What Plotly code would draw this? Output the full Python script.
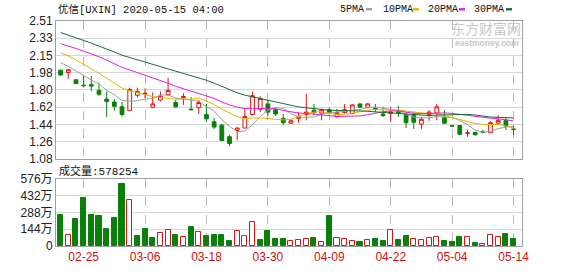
import plotly.graph_objects as go
import pandas as pd

# ---------------- data ----------------
dates = ["02-20", "02-21", "02-24", "02-25", "02-26", "02-27", "02-28", "03-02", "03-03", "03-04", "03-05", "03-06",
         "03-09", "03-10", "03-11", "03-12", "03-13", "03-16", "03-17", "03-18", "03-19", "03-20", "03-23", "03-24",
         "03-25", "03-26", "03-27", "03-30", "03-31", "04-01", "04-02", "04-03", "04-06", "04-07", "04-08", "04-09",
         "04-13", "04-14", "04-15", "04-16", "04-17", "04-20", "04-21", "04-22", "04-23", "04-24", "04-27", "04-28",
         "04-29", "04-30", "05-01", "05-04", "05-05", "05-06", "05-07", "05-08", "05-11", "05-12", "05-13", "05-14"]

open_ = [2.00, 1.975, 1.90, 1.845, 1.85, 1.79, 1.70, 1.67, 1.62, 1.58, 1.74, 1.75,
         1.615, 1.69, 1.745, 1.665, 1.715, 1.595, 1.61, 1.54, 1.465, 1.43, 1.31, 1.375,
         1.40, 1.54, 1.595, 1.65, 1.59, 1.50, 1.45, 1.50, 1.54, 1.585, 1.555, 1.59,
         1.515, 1.56, 1.55, 1.65, 1.615, 1.605, 1.545, 1.55, 1.57, 1.54, 1.53, 1.44,
         1.54, 1.555, 1.51, 1.425, 1.425, 1.345, 1.355, 1.36, 1.35, 1.45, 1.48, 1.39]
high = [2.005, 2.01, 1.91, 1.94, 1.94, 1.87, 1.78, 1.70, 1.67, 1.82, 1.82, 1.81,
        1.77, 1.78, 1.92, 1.69, 1.76, 1.72, 1.69, 1.65, 1.505, 1.445, 1.33, 1.405,
        1.60, 1.775, 1.73, 1.69, 1.605, 1.545, 1.49, 1.565, 1.755, 1.65, 1.60, 1.61,
        1.60, 1.65, 1.645, 1.655, 1.655, 1.65, 1.62, 1.62, 1.63, 1.565, 1.565, 1.515,
        1.585, 1.65, 1.585, 1.43, 1.43, 1.385, 1.36, 1.385, 1.47, 1.53, 1.515, 1.43]
low = [1.945, 1.91, 1.86, 1.82, 1.78, 1.73, 1.515, 1.58, 1.52, 1.58, 1.72, 1.71,
       1.61, 1.675, 1.73, 1.61, 1.64, 1.585, 1.545, 1.465, 1.39, 1.265, 1.21, 1.275,
       1.40, 1.53, 1.565, 1.53, 1.525, 1.43, 1.445, 1.455, 1.48, 1.535, 1.48, 1.545,
       1.51, 1.55, 1.545, 1.61, 1.61, 1.565, 1.515, 1.465, 1.515, 1.40, 1.39, 1.39,
       1.475, 1.48, 1.445, 1.415, 1.33, 1.31, 1.32, 1.345, 1.35, 1.44, 1.38, 1.325]
close = [1.95, 2.005, 1.86, 1.84, 1.835, 1.75, 1.675, 1.625, 1.54, 1.80, 1.78, 1.76,
         1.65, 1.73, 1.79, 1.62, 1.725, 1.59, 1.665, 1.495, 1.41, 1.27, 1.24, 1.40,
         1.52, 1.735, 1.705, 1.565, 1.545, 1.455, 1.475, 1.52, 1.565, 1.56, 1.59, 1.555,
         1.56, 1.59, 1.64, 1.615, 1.65, 1.595, 1.53, 1.565, 1.56, 1.455, 1.46, 1.49,
         1.565, 1.62, 1.45, 1.42, 1.335, 1.35, 1.33, 1.355, 1.455, 1.48, 1.42, 1.385]

# closes of the 29 sessions before the window (estimated so the averages start where the chart shows them)
prior_closes = [2.75, 2.72, 2.70, 2.66, 2.63, 2.60, 2.58, 2.55, 2.52, 2.49,
                2.45, 2.42, 2.40, 2.38, 2.36, 2.37, 2.35, 2.33, 2.32, 2.32,
                2.31, 2.29, 2.28, 2.27, 2.26, 2.20, 2.10, 2.08, 2.06]

# volume, in 万 shares
volume = [269, 95, 236, 410, 269, 261, 148, 245, 535, 394, 87, 145,
          70, 109, 134, 95, 79, 162, 118, 87, 95, 95, 46, 128,
          87, 203, 54, 128, 62, 62, 43, 51, 60, 68, 35, 261,
          68, 62, 43, 37, 54, 62, 46, 137, 54, 87, 60, 54,
          73, 79, 40, 37, 79, 79, 29, 21, 95, 79, 104, 57.8254]

x_tick_dates = ["02-25", "03-06", "03-18", "03-30", "04-09", "04-22", "05-04", "05-14"]
price_tick_vals = [2.51, 2.33125, 2.1525, 1.97375, 1.795, 1.61625, 1.4375, 1.25875, 1.08]
price_tick_text = ["2.51", "2.33", "2.15", "1.98", "1.80", "1.62", "1.44", "1.26", "1.08"]
vol_tick_vals = [0, 144, 288, 432, 576]
vol_tick_text = ["0", "144万", "288万", "432万", "576万"]

ma_periods = [5, 10, 20, 30]
ma_names = ["5PMA", "10PMA", "20PMA", "30PMA"]
ma_colors = ["#a0a0a0", "#f0b000", "#e020e0", "#1a6b3a"]

title_text = "优信[UXIN] 2020-05-15 04:00"
volume_label = "成交量:578254"

# ---------------- derived ----------------
RED = "#e01010"
GREEN = "#0a800a"
all_close = pd.Series(prior_closes + close)
n_prior = len(prior_closes)

vol_fill, vol_line = [], []
for i, c in enumerate(close):
    prev = close[i - 1] if i > 0 else open_[0]
    up = c >= prev
    vol_fill.append("white" if up else GREEN)
    vol_line.append(RED if up else GREEN)

fig = go.Figure()

fig.add_trace(go.Candlestick(
    x=dates, open=open_, high=high, low=low, close=close,
    increasing=dict(line=dict(color=RED, width=1), fillcolor="white"),
    decreasing=dict(line=dict(color=GREEN, width=1), fillcolor=GREEN),
    whiskerwidth=0, showlegend=False, xaxis="x", yaxis="y"))

for p, name, col in zip(ma_periods, ma_names, ma_colors):
    ma = all_close.rolling(p).mean().iloc[n_prior:].tolist()
    fig.add_trace(go.Scatter(x=dates, y=ma, mode="lines", name=name,
                             line=dict(color=col, width=1), showlegend=False,
                             xaxis="x", yaxis="y"))

fig.add_trace(go.Bar(x=dates, y=volume, width=0.66,
                     marker=dict(color=vol_fill, line=dict(color=vol_line, width=1)),
                     showlegend=False, xaxis="x2", yaxis="y2"))

# ---------------- layout ----------------
W, H = 578, 276
L, R, T, B = 56, 56, 21, 20
pw, ph = W - L - R, H - T - B


def px_x(px):
    return (px - L) / pw


def px_y(py):
    return (H - B - py) / ph


axis_font = dict(family="Liberation Sans, Arial, sans-serif", size=12, color="#222")
common_x = dict(type="category", range=[-0.6, 60.1], tickvals=x_tick_dates,
                showgrid=True, gridcolor="#b8b8b8", griddash="dash", gridwidth=1,
                showline=True, mirror=True, linecolor="#a0a0a0", ticks="",
                zeroline=False, fixedrange=True)

fig.update_layout(
    width=W, height=H, margin=dict(l=L, r=R, t=T, b=B, pad=0),
    paper_bgcolor="white", plot_bgcolor="white",
    font=axis_font, bargap=0, boxgap=0.3,
    xaxis=dict(**common_x, anchor="y", showticklabels=False,
               rangeslider=dict(visible=False)),
    xaxis2=dict(**common_x, anchor="y2", matches="x", showticklabels=True,
                tickfont=dict(family="Liberation Sans, Arial, sans-serif", size=12, color="#d01010")),
    yaxis=dict(domain=[px_y(165), 1], range=[1.08, 2.51], tickvals=price_tick_vals,
               ticktext=price_tick_text, showgrid=True, gridcolor="#d8d8d8",
               showline=True, mirror=True, linecolor="#a0a0a0", zeroline=False, ticks=""),
    yaxis2=dict(domain=[0, px_y(186)], range=[0, 576], tickvals=vol_tick_vals,
                ticktext=vol_tick_text, showgrid=True, gridcolor="#d8d8d8",
                showline=True, mirror=True, linecolor="#a0a0a0", zeroline=False, ticks="",
                tickfont=dict(family="Liberation Sans, Noto Sans CJK SC, sans-serif", size=12, color="#222")),
)

mono = "Liberation Mono, Noto Sans CJK SC, monospace"
ann = [
    dict(text=title_text, x=0, y=px_y(8.5), xanchor="left", yanchor="middle",
         font=dict(family=mono, size=10.5, color="#111")),
    dict(text=volume_label, x=px_x(57), y=px_y(178), xanchor="left", yanchor="middle",
         font=dict(family=mono, size=11, color="#111")),
    dict(text="东方财富网", x=px_x(486), y=px_y(28.5), xanchor="center", yanchor="middle",
         font=dict(family="Noto Sans CJK SC", size=14, color="#c8c8c8")),
    dict(text="<b>eastmoney.com</b>", x=px_x(487), y=px_y(44), xanchor="center", yanchor="middle",
         font=dict(family="Liberation Sans, Arial", size=8.5, color="#c8c8c8")),
]
legend_left = [338, 381, 426, 472]
dash_left = [366, 413, 459, 506]
shapes = []
for name, col, lx, dx in zip(ma_names, ma_colors, legend_left, dash_left):
    ann.append(dict(text=name, x=px_x(lx), y=px_y(9.5), xanchor="left", yanchor="middle",
                    font=dict(family=mono, size=10, color="#111")))
    shapes.append(dict(type="rect", xref="paper", yref="paper",
                       x0=px_x(dx), x1=px_x(dx + 6), y0=px_y(10), y1=px_y(7.5),
                       fillcolor=col, line=dict(width=0)))

for a in ann:
    a.update(xref="paper", yref="paper", showarrow=False)
fig.update_layout(annotations=ann, shapes=shapes)

fig.write_html("out.html")
